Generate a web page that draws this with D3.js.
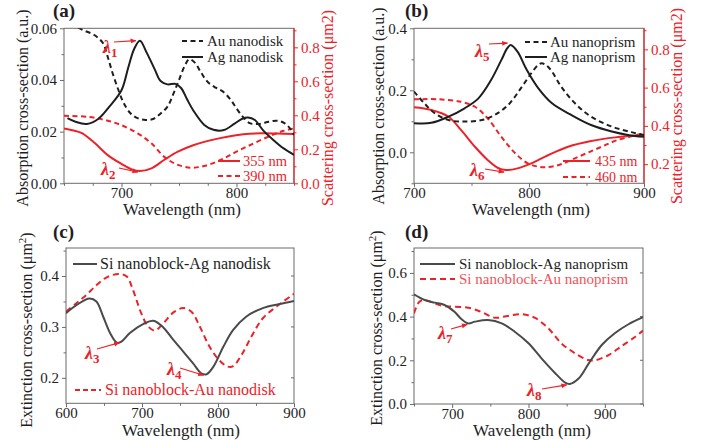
<!DOCTYPE html>
<html>
<head>
<meta charset="utf-8">
<script src="https://cdn.jsdelivr.net/npm/d3@7"></script>
<style>
  body { margin: 0; background: #fff; }
</style>
</head>
<body>
<svg id="fig" width="705" height="441"></svg>
<script>
// ---- data: [wavelength nm, value] ----
// (a) nanodisks
var aAgAbs = [[653,0.0252],[660,0.0238],[670,0.0230],[680,0.0250],[690,0.0300],[700,0.0360],[706,0.0450],[711,0.0520],[716,0.0552],[722,0.0505],[729,0.0440],[734,0.0396],[740,0.0383],[747,0.0385],[752,0.0368],[757,0.0325],[763,0.0278],[772,0.0226],[780,0.0207],[789,0.0206],[798,0.0230],[805,0.0250],[810,0.0255],[816,0.0245],[823,0.0206],[832,0.0168],[841,0.0135],[850,0.0110]];
var aAuAbs = [[650,0.0640],[658,0.0615],[666,0.0594],[676,0.0575],[684,0.0542],[688,0.0490],[692,0.0430],[697,0.0365],[702,0.0310],[708,0.0270],[714,0.0252],[721,0.0245],[728,0.0250],[734,0.0270],[740,0.0297],[745,0.0345],[750,0.0400],[755,0.0455],[759,0.0480],[764,0.0466],[769,0.0430],[775,0.0392],[782,0.0370],[788,0.0356],[795,0.0323],[800,0.0290],[806,0.0255],[812,0.0232],[820,0.0230],[828,0.0238],[836,0.0242],[842,0.0232],[847,0.0210],[850,0.0187]];
var aSca355 = [[650,0.323],[660,0.308],[666,0.294],[677,0.235],[688,0.166],[700,0.114],[709,0.082],[716,0.072],[726,0.088],[737,0.137],[749,0.186],[763,0.225],[778,0.254],[792,0.274],[806,0.288],[821,0.294],[835,0.293],[850,0.290]];
var aSca390 = [[650,0.397],[671,0.391],[686,0.372],[700,0.342],[714,0.294],[726,0.235],[737,0.157],[747,0.114],[760,0.092],[772,0.102],[786,0.137],[800,0.186],[815,0.235],[829,0.278],[841,0.309],[850,0.323]];

// (b) nanoprisms
var bAgAbs = [[700,0.094],[715,0.095],[730,0.115],[744,0.142],[756,0.174],[767,0.233],[776,0.298],[781,0.335],[784,0.346],[790,0.325],[798,0.266],[808,0.207],[820,0.158],[837,0.120],[854,0.088],[872,0.067],[886,0.056],[900,0.050]];
var bAuAbs = [[700,0.196],[709,0.158],[718,0.126],[730,0.104],[744,0.099],[759,0.104],[770,0.120],[782,0.153],[793,0.207],[802,0.255],[808,0.282],[811,0.287],[815,0.281],[820,0.260],[828,0.212],[840,0.158],[854,0.115],[872,0.083],[889,0.065],[900,0.056]];
var bSca435 = [[700,0.497],[715,0.483],[730,0.448],[741,0.378],[753,0.291],[764,0.222],[773,0.180],[780,0.169],[790,0.178],[802,0.204],[817,0.248],[834,0.291],[854,0.321],[875,0.340],[900,0.352]];
var bSca460 = [[700,0.539],[721,0.539],[741,0.526],[753,0.500],[764,0.440],[776,0.343],[788,0.257],[799,0.204],[808,0.187],[814,0.184],[826,0.196],[843,0.239],[860,0.283],[877,0.326],[900,0.361]];

// (c) Si nanoblock + nanodisk extinction
var cAgExt = [[600,0.327],[614,0.343],[631,0.356],[640,0.350],[649,0.320],[658,0.288],[667,0.269],[673,0.271],[684,0.288],[702,0.306],[715,0.312],[728,0.299],[741,0.275],[754,0.252],[767,0.229],[778,0.209],[785,0.207],[794,0.222],[807,0.261],[820,0.294],[837,0.320],[859,0.337],[881,0.345],[900,0.351]];
var cAuExt = [[600,0.330],[614,0.347],[627,0.363],[640,0.382],[653,0.397],[669,0.404],[680,0.399],[688,0.373],[699,0.327],[708,0.301],[717,0.293],[728,0.307],[741,0.328],[754,0.337],[765,0.330],[776,0.301],[789,0.261],[802,0.234],[813,0.222],[820,0.223],[831,0.245],[844,0.281],[859,0.317],[877,0.340],[900,0.365]];

// (d) Si nanoblock + nanoprism extinction
var dAgExt = [[650,0.502],[664,0.476],[677,0.464],[690,0.453],[703,0.422],[712,0.389],[721,0.369],[730,0.377],[747,0.384],[765,0.369],[782,0.331],[800,0.278],[817,0.209],[835,0.141],[848,0.098],[854,0.092],[866,0.118],[879,0.186],[896,0.270],[913,0.324],[931,0.365],[950,0.397]];
var dAuExt = [[650,0.415],[657,0.468],[664,0.476],[686,0.450],[703,0.445],[721,0.441],[738,0.422],[756,0.395],[773,0.403],[791,0.411],[808,0.395],[826,0.346],[843,0.278],[861,0.232],[878,0.201],[887,0.200],[905,0.224],[922,0.265],[940,0.308],[950,0.336]];

// legend labels
var aLegend = ["Au nanodisk", "Ag nanodisk"], aSizes = ["355 nm", "390 nm"];
var bLegend = ["Au nanoprism", "Ag nanoprism"], bSizes = ["435 nm", "460 nm"];
var cLegend = ["Si nanoblock-Ag nanodisk", "Si nanoblock-Au nanodisk"];
var dLegend = ["Si nanoblock-Ag nanoprism", "Si nanoblock-Au nanoprism"];

var RED = "#ec2228", PINK = "#f2525a", INK = "#1e1e1e", GREY = "#4a4a4a", FRAME = "#6b6b6b";
var SERIF = "'Liberation Serif', 'DejaVu Serif', 'Times New Roman', serif";

var svg = d3.select("#fig");
var defs = svg.append("defs");
defs.append("marker").attr("id", "arr").attr("viewBox", "0 0 10 10")
  .attr("refX", 9).attr("refY", 5).attr("markerWidth", 5).attr("markerHeight", 5)
  .attr("orient", "auto")
  .append("path").attr("d", "M0,1 L10,5 L0,9 z").attr("fill", RED);

var clipN = 0;

function styleAxis(sel, col, txtCol) {
  sel.attr("font-family", null);
  sel.selectAll(".domain").remove();
  sel.selectAll(".tick line").attr("stroke", col);
  sel.selectAll(".tick text").attr("fill", txtCol).style("font-size", "15px");
}

function axisSet(g, axisFn, scale, pos, major, minor, fmt, col, txtCol, pad) {
  var gm = g.append("g").attr("transform", pos)
    .call(axisFn(scale).tickValues(minor).tickSize(2.5).tickFormat(""));
  styleAxis(gm, col, txtCol);
  var gM = g.append("g").attr("transform", pos)
    .call(axisFn(scale).tickValues(major).tickSize(4).tickPadding(pad).tickFormat(d3.format(fmt)));
  styleAxis(gM, col, txtCol);
  return gM;
}

function panel(p) {
  var g = svg.append("g");
  var x = d3.scaleLinear().domain(p.xDom).range([p.left, p.right]);
  var y = d3.scaleLinear().domain(p.yDom).range([p.bottom, p.top]);
  var yR = p.yRDom ? d3.scaleLinear().domain(p.yRDom).range([p.bottom, p.top]) : null;

  var id = "clip" + (clipN++);
  defs.append("clipPath").attr("id", id).append("rect")
    .attr("x", p.left).attr("y", p.top).attr("width", p.right - p.left).attr("height", p.bottom - p.top);

  // frame
  g.append("rect").attr("x", p.left).attr("y", p.top)
    .attr("width", p.right - p.left).attr("height", p.bottom - p.top)
    .attr("fill", "none").attr("stroke", FRAME).attr("stroke-width", 1);

  axisSet(g, d3.axisBottom, x, "translate(0," + p.bottom + ")", p.xMajor, p.xMinor, "d", FRAME, INK, 0);
  axisSet(g, d3.axisLeft, y, "translate(" + p.left + ",0)", p.yMajor, p.yMinor, p.yFmt, FRAME, INK, 3);
  if (p.mirror) {
    // small inward ticks on the right edge
    g.selectAll(".mt").data(p.yMajor).enter().append("line")
      .attr("x1", p.right - 3).attr("x2", p.right)
      .attr("y1", function (d) { return y(d); }).attr("y2", function (d) { return y(d); })
      .attr("stroke", FRAME);
  }
  if (yR) {
    axisSet(g, d3.axisRight, yR, "translate(" + p.right + ",0)", p.yRMajor, p.yRMinor, ".1f", RED, RED, 3);
    g.append("line").attr("x1", p.right).attr("x2", p.right).attr("y1", p.top).attr("y2", p.bottom)
      .attr("stroke", RED).attr("stroke-width", 1.2);
  }

  var plot = g.append("g").attr("clip-path", "url(#" + id + ")");
  p.series.forEach(function (s) {
    var sc = s.right ? yR : y;
    var line = d3.line().curve(d3.curveCatmullRom.alpha(0.5))
      .x(function (d) { return x(d[0]); })
      .y(function (d) { return sc(d[1]); });
    plot.append("path").datum(s.data).attr("d", line)
      .attr("fill", "none").attr("stroke", s.color).attr("stroke-width", 2)
      .attr("stroke-dasharray", s.dash || null);
  });

  // legend entries
  p.legend.forEach(function (l) {
    g.append("line").attr("x1", l.x1).attr("x2", l.x2).attr("y1", l.y).attr("y2", l.y)
      .attr("stroke", l.color).attr("stroke-width", 2).attr("stroke-dasharray", l.dash || null);
    g.append("text").attr("x", l.tx).attr("y", l.y + 5).text(l.text)
      .attr("fill", l.tcolor).style("font-size", l.size + "px");
  });

  // lambda markers
  p.marks.forEach(function (m) {
    var sc = m.right ? yR : y;
    var t = g.append("text").attr("x", m.tx).attr("y", m.ty).attr("fill", RED)
      .style("font-size", "18px").style("font-weight", "bold").style("font-style", "italic");
    t.append("tspan").text("λ");
    t.append("tspan").text(m.n).attr("dy", 4).style("font-size", "13px").style("font-style", "normal");
    g.append("line").attr("x1", m.ax).attr("y1", m.ay)
      .attr("x2", x(m.at[0]) + m.off[0]).attr("y2", sc(m.at[1]) + m.off[1])
      .attr("stroke", RED).attr("stroke-width", 1.2).attr("marker-end", "url(#arr)");
  });

  // titles
  g.append("text").attr("x", p.tag[0]).attr("y", p.tag[1]).text(p.tagText)
    .attr("fill", INK).style("font-size", "19px").style("font-weight", "bold");
  g.append("text").attr("x", p.xlab[0]).attr("y", p.xlab[1]).attr("text-anchor", "middle")
    .text("Wavelength (nm)").attr("fill", INK).style("font-size", "17px");
  var yl = g.append("text").attr("transform", "translate(" + p.ylab[0] + "," + p.ylab[1] + ") rotate(-90)")
    .attr("text-anchor", "middle").attr("fill", INK).style("font-size", "16px");
  yl.append("tspan").text(p.ylabText);
  if (p.ylabSup) {
    yl.append("tspan").text(p.ylabSup).attr("dy", -6).style("font-size", "11px");
    yl.append("tspan").text(")").attr("dy", 6);
  }
  if (p.yrlab) {
    g.append("text").attr("transform", "translate(" + p.yrlab[0] + "," + p.yrlab[1] + ") rotate(-90)")
      .attr("text-anchor", "middle").attr("fill", RED).style("font-size", "16px")
      .text("Scattering cross-section (μm2)");
  }
}

var DASH = "5,3.5";

panel({
  xDom: [650, 850], yDom: [0, 0.06], yRDom: [0, 0.912],
  left: 64, right: 294, top: 28.3, bottom: 183.3,
  xMajor: [700, 800], xMinor: [650, 675, 725, 750, 775, 825, 850],
  yMajor: [0, 0.02, 0.04, 0.06], yMinor: [0.01, 0.03, 0.05], yFmt: ".2f",
  yRMajor: [0, 0.2, 0.4, 0.6, 0.8], yRMinor: [0.1, 0.3, 0.5, 0.7, 0.9],
  series: [
    { data: aSca390, color: RED, dash: DASH, right: true },
    { data: aSca355, color: RED, right: true },
    { data: aAuAbs, color: INK, dash: DASH },
    { data: aAgAbs, color: INK }
  ],
  legend: [
    { x1: 182, x2: 203, y: 41, dash: DASH, color: INK, tx: 207, text: aLegend[0], tcolor: INK, size: 15 },
    { x1: 182, x2: 203, y: 57, color: INK, tx: 207, text: aLegend[1], tcolor: INK, size: 15 },
    { x1: 218, x2: 240, y: 161, color: RED, tx: 243, text: aSizes[0], tcolor: RED, size: 14.5 },
    { x1: 218, x2: 240, y: 176, dash: DASH, color: RED, tx: 243, text: aSizes[1], tcolor: RED, size: 14.5 }
  ],
  marks: [
    { n: "1", tx: 103, ty: 53, ax: 114, ay: 42, at: [716, 0.0552], off: [-4, 0] },
    { n: "2", tx: 101, ty: 175, ax: 119, ay: 168, at: [716, 0.072], off: [-2, 1], right: true }
  ],
  tag: [53, 17], tagText: "(a)", xlab: [182, 215],
  ylab: [28, 108], ylabText: "Absorption cross-section (a.u.)", yrlab: [333, 108]
});

panel({
  xDom: [700, 900], yDom: [-0.1, 0.4], yRDom: [0.1, 0.91],
  left: 414, right: 644, top: 28.3, bottom: 183.3,
  xMajor: [700, 800, 900], xMinor: [750, 850],
  yMajor: [0, 0.2, 0.4], yMinor: [-0.1, 0.1, 0.3], yFmt: ".1f",
  yRMajor: [0.2, 0.4, 0.6, 0.8], yRMinor: [0.3, 0.5, 0.7, 0.9],
  series: [
    { data: bSca460, color: RED, dash: DASH, right: true },
    { data: bSca435, color: RED, right: true },
    { data: bAuAbs, color: INK, dash: DASH },
    { data: bAgAbs, color: INK }
  ],
  legend: [
    { x1: 525, x2: 547, y: 42, dash: DASH, color: INK, tx: 550, text: bLegend[0], tcolor: INK, size: 15 },
    { x1: 525, x2: 547, y: 57, color: INK, tx: 550, text: bLegend[1], tcolor: INK, size: 15 },
    { x1: 563, x2: 590, y: 161, color: RED, tx: 595, text: bSizes[0], tcolor: RED, size: 14 },
    { x1: 563, x2: 590, y: 177, dash: DASH, color: RED, tx: 595, text: bSizes[1], tcolor: RED, size: 14 }
  ],
  marks: [
    { n: "5", tx: 475, ty: 57, ax: 489, ay: 44, at: [784, 0.346], off: [-3, -2] },
    { n: "6", tx: 470, ty: 176, ax: 485, ay: 169, at: [780, 0.169], off: [-2, 2], right: true }
  ],
  tag: [405, 17], tagText: "(b)", xlab: [531, 215],
  ylab: [384, 106], ylabText: "Absorption cross-section (a.u.)", yrlab: [682, 106]
});

panel({
  xDom: [600, 900], yDom: [0.15, 0.455],
  left: 66, right: 294, top: 248, bottom: 403.3, mirror: true,
  xMajor: [600, 700, 800, 900], xMinor: [650, 750, 850],
  yMajor: [0.2, 0.3, 0.4], yMinor: [0.25, 0.35, 0.45], yFmt: ".1f",
  series: [
    { data: cAuExt, color: RED, dash: "6,4" },
    { data: cAgExt, color: GREY }
  ],
  legend: [
    { x1: 73, x2: 97, y: 264, color: GREY, tx: 100, text: cLegend[0], tcolor: INK, size: 16 },
    { x1: 75, x2: 101, y: 390, dash: "5,3", color: RED, tx: 105, text: cLegend[1], tcolor: RED, size: 16 }
  ],
  marks: [
    { n: "3", tx: 85, ty: 359, ax: 97, ay: 349, at: [673, 0.271], off: [-2, 1] },
    { n: "4", tx: 167, ty: 375, ax: 180, ay: 368, at: [785, 0.207], off: [-3, 1] }
  ],
  tag: [53, 238], tagText: "(c)", xlab: [181, 436],
  ylab: [32, 330], ylabText: "Extinction cross-section (μm", ylabSup: "2"
});

panel({
  xDom: [650, 950], yDom: [0, 0.714],
  left: 414, right: 643, top: 248, bottom: 404, mirror: true,
  xMajor: [700, 800, 900], xMinor: [650, 750, 850, 950],
  yMajor: [0, 0.2, 0.4, 0.6], yMinor: [0.1, 0.3, 0.5, 0.7], yFmt: ".1f",
  series: [
    { data: dAuExt, color: RED, dash: "6,4" },
    { data: dAgExt, color: GREY }
  ],
  legend: [
    { x1: 420, x2: 455, y: 264, color: GREY, tx: 459, text: dLegend[0], tcolor: INK, size: 15 },
    { x1: 420, x2: 455, y: 279, dash: "6,4", color: RED, tx: 459, text: dLegend[1], tcolor: PINK, size: 15 }
  ],
  marks: [
    { n: "7", tx: 438, ty: 339, ax: 451, ay: 329, at: [721, 0.369], off: [-1, 1] },
    { n: "8", tx: 527, ty: 396, ax: 542, ay: 389, at: [854, 0.092], off: [-3, 1] }
  ],
  tag: [405, 238], tagText: "(d)", xlab: [532, 436],
  ylab: [382, 328], ylabText: "Extinction cross-section (μm", ylabSup: "2"
});

// serif everywhere, as in the original figure
svg.selectAll("text").style("font-family", SERIF);
</script>
</body>
</html>
